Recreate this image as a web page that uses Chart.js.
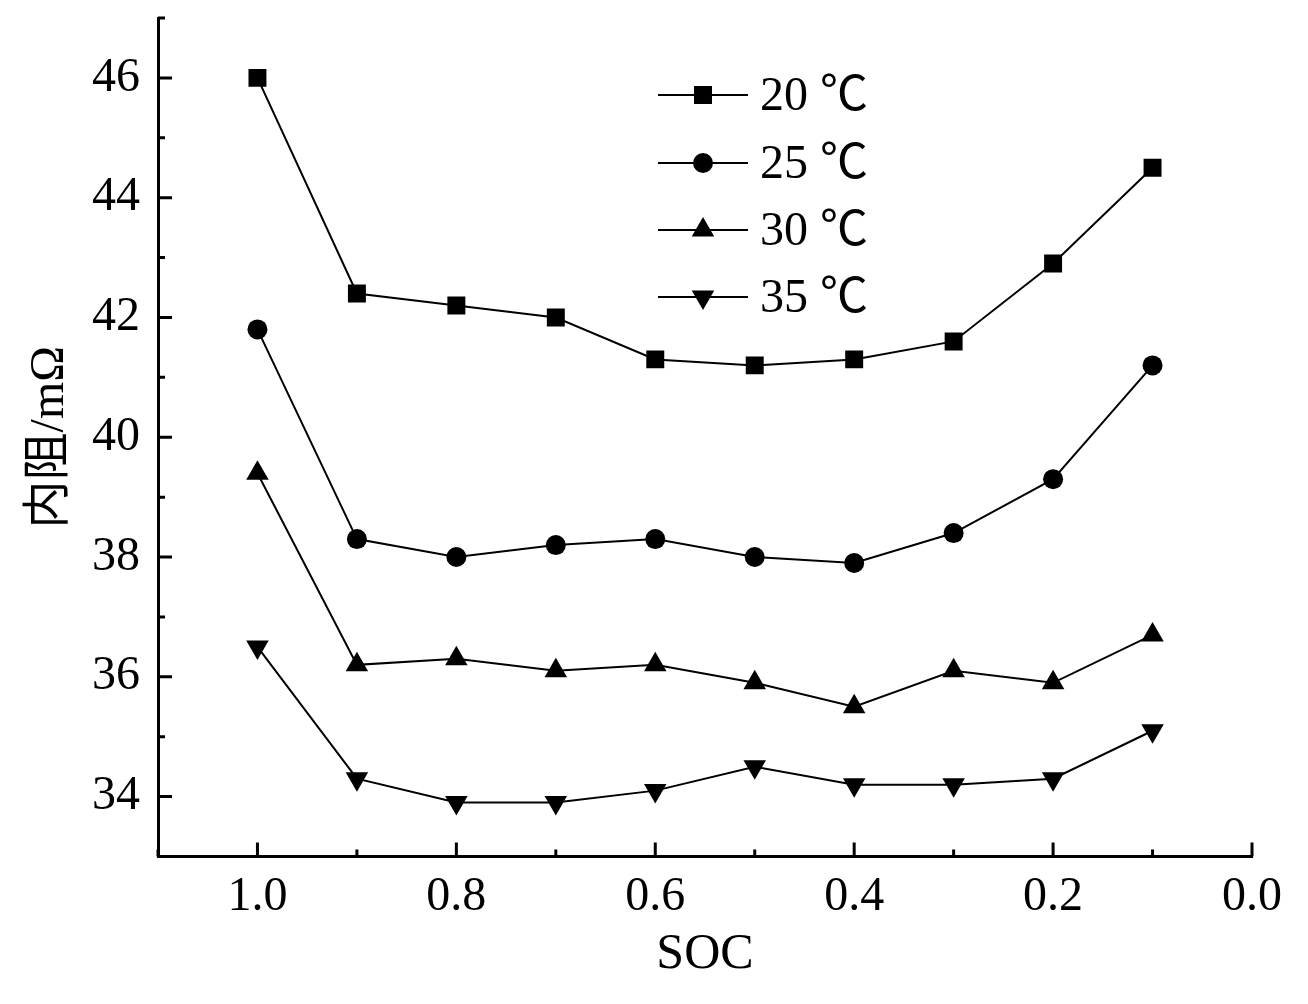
<!DOCTYPE html>
<html>
<head>
<meta charset="utf-8">
<script src="https://cdn.jsdelivr.net/npm/chart.js@4.4.1/dist/chart.umd.min.js"></script>
<style>
  html,body{margin:0;padding:0;background:#fff;}
  #wrap{width:1308px;height:1004px;}
</style>
</head>
<body>
<div id="wrap"><canvas id="socChart" width="1308" height="1004"></canvas></div>
<script>
/* ============ DATA ============ */
const soc = [1.0, 0.9, 0.8, 0.7, 0.6, 0.5, 0.4, 0.3, 0.2, 0.1];
const seriesNames = ['20 ℃', '25 ℃', '30 ℃', '35 ℃'];
const r20 = [46.0, 42.4, 42.2, 42.0, 41.3, 41.2, 41.3, 41.6, 42.9, 44.5];
const r25 = [41.8, 38.3, 38.0, 38.2, 38.3, 38.0, 37.9, 38.4, 39.3, 41.2];
const r30 = [39.4, 36.2, 36.3, 36.1, 36.2, 35.9, 35.5, 36.1, 35.9, 36.7];
const r35 = [36.5, 34.3, 33.9, 33.9, 34.1, 34.5, 34.2, 34.2, 34.3, 35.1];
const xTicks = [1.0, 0.8, 0.6, 0.4, 0.2, 0.0];
const xMinor = [1.1, 0.9, 0.7, 0.5, 0.3, 0.1];
const yTicks = [34, 36, 38, 40, 42, 44, 46];
const yMinor = [35, 37, 39, 41, 43, 45, 47];

const SERIF = "'Liberation Serif', 'Times New Roman', 'Noto Sans CJK SC', serif";

/* ============ MARKERS ============ */
const markers = [
  {style:'rect',     radius:12.7, rotation:0},
  {style:'circle',   radius:10,   rotation:0},
  {style:'triangle', radius:13,   rotation:0},
  {style:'triangle', radius:13,   rotation:180}
];

function pts(ys){ return soc.map((x,i)=>({x:x, y:ys[i]})); }

const datasets = [r20, r25, r30, r35].map((ys,i)=>({
  label: seriesNames[i],
  data: pts(ys),
  borderColor:'#000',
  backgroundColor:'#000',
  borderWidth:2,
  tension:0,
  pointStyle: markers[i].style,
  pointRadius: markers[i].radius,
  pointRotation: markers[i].rotation,
  pointBorderWidth:0,
  pointBackgroundColor:'#000'
}));

/* ---- inward ticks (major + minor) ---- */
const innerTicks = {
  id:'innerTicks',
  afterDraw(chart){
    const {ctx, chartArea:a, scales:{x,y}} = chart;
    ctx.save();
    ctx.strokeStyle='#000'; ctx.lineWidth=3; ctx.lineCap='butt';
    ctx.beginPath();
    yTicks.forEach(v=>{ const p=y.getPixelForValue(v); ctx.moveTo(a.left,p); ctx.lineTo(a.left+14,p); });
    yMinor.forEach(v=>{ const p=y.getPixelForValue(v); ctx.moveTo(a.left,p); ctx.lineTo(a.left+7,p); });
    xTicks.forEach(v=>{ const p=x.getPixelForValue(v); ctx.moveTo(p,a.bottom); ctx.lineTo(p,a.bottom-14); });
    xMinor.forEach(v=>{ const p=x.getPixelForValue(v); ctx.moveTo(p,a.bottom); ctx.lineTo(p,a.bottom-7); });
    ctx.stroke();
    ctx.restore();
  }
};

/* ---- legend: line with marker, label on the right ---- */
function drawMarker(ctx, m, cx, cy){
  const r = m.radius;
  ctx.beginPath();
  if(m.style==='rect'){
    const s = r/Math.SQRT2;
    ctx.rect(cx-s, cy-s, 2*s, 2*s);
  } else if(m.style==='circle'){
    ctx.arc(cx, cy, r, 0, Math.PI*2);
  } else {
    let rad = m.rotation*Math.PI/180;
    for(let k=0;k<3;k++){
      const px = cx + Math.sin(rad)*r, py = cy - Math.cos(rad)*r;
      k===0 ? ctx.moveTo(px,py) : ctx.lineTo(px,py);
      rad += Math.PI*2/3;
    }
    ctx.closePath();
  }
  ctx.fill();
}
const lineLegend = {
  id:'lineLegend',
  afterDraw(chart){
    const ctx = chart.ctx;
    const rows = [95, 163, 230, 297];
    ctx.save();
    ctx.fillStyle='#000'; ctx.strokeStyle='#000'; ctx.lineWidth=2;
    ctx.font = '48px ' + SERIF;
    ctx.textBaseline='middle'; ctx.textAlign='left';
    chart.data.datasets.forEach((ds,i)=>{
      const y = rows[i];
      ctx.beginPath(); ctx.moveTo(658,y); ctx.lineTo(748,y); ctx.stroke();
      drawMarker(ctx, markers[i], 703, y);
      ctx.fillText(ds.label, 760, y+2);
    });
    ctx.restore();
  }
};

new Chart(document.getElementById('socChart').getContext('2d'), {
  type:'line',
  data:{ datasets },
  options:{
    responsive:false,
    animation:false,
    devicePixelRatio:1,
    layout:{ padding:{ top:18, right:56, left:0, bottom:0 } },
    plugins:{ legend:{display:false}, tooltip:{enabled:false} },
    scales:{
      x:{
        type:'linear', reverse:true, min:0, max:1.1,
        afterBuildTicks:s=>{ s.ticks = xTicks.map(v=>({value:v})); },
        afterFit:s=>{ s.height = 147.5; s.paddingLeft = 0; s.paddingRight = 0; },
        grid:{ display:false, drawTicks:false },
        border:{ display:true, color:'#000', width:3 },
        ticks:{ color:'#000', padding:12, maxRotation:0, autoSkip:false,
          font:{ family:SERIF, size:48 }, callback:v=>Number(v).toFixed(1) },
        title:{ display:true, text:'SOC', color:'#000',
          font:{ family:SERIF, size:50 }, padding:{ top:0, bottom:19 } }
      },
      y:{
        type:'linear', min:33, max:47,
        afterBuildTicks:s=>{ s.ticks = yTicks.map(v=>({value:v})); },
        afterFit:s=>{ s.width = 158; s.paddingTop = 0; s.paddingBottom = 0; },
        grid:{ display:false, drawTicks:false },
        border:{ display:true, color:'#000', width:3 },
        ticks:{ color:'#000', padding:18, autoSkip:false,
          font:{ family:SERIF, size:48 } },
        title:{ display:true, text:'内阻/mΩ', color:'#000',
          font:{ family:SERIF, size:48 }, padding:{ top:22, bottom:0 } }
      }
    }
  },
  plugins:[innerTicks, lineLegend]
});
</script>
</body>
</html>
